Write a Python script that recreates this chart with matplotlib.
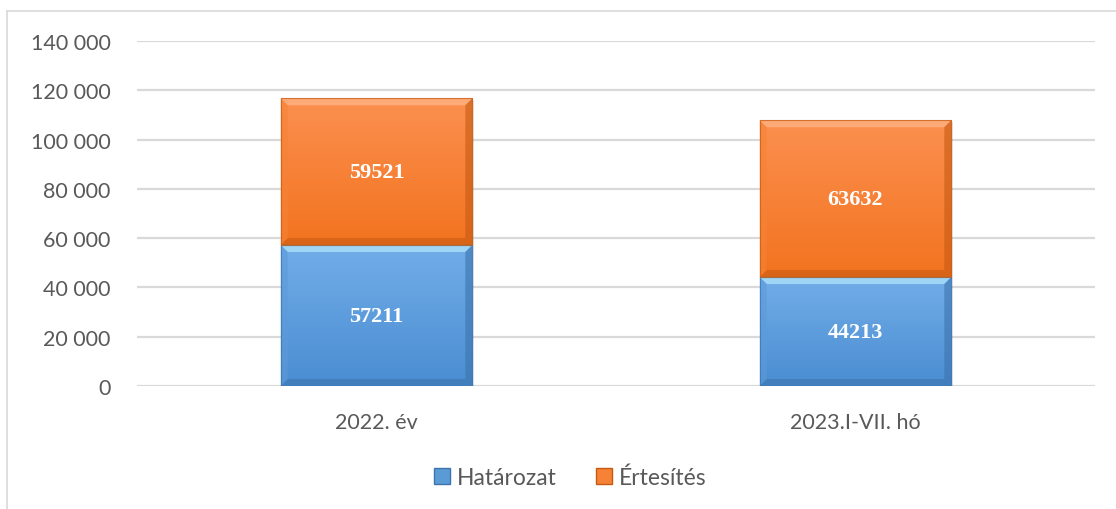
import numpy as np
import matplotlib
matplotlib.use("Agg")
import matplotlib.pyplot as plt
from matplotlib.patches import Polygon, Patch
from matplotlib.lines import Line2D
from matplotlib.colors import LinearSegmentedColormap

categories = ["2022. év", "2023.I-VII. hó"]
hatarozat = [57211, 44213]
ertesites = [59521, 63632]
series_names = ["Határozat", "Értesítés"]
yticks = [0, 20000, 40000, 60000, 80000, 100000, 120000, 140000]

W, H = 1116, 510
fig = plt.figure(figsize=(W / 100, H / 100), dpi=100)
fig.patch.set_facecolor("white")

ax = fig.add_axes([137 / W, (H - 387) / H, (1095 - 137) / W, (387 - 42) / H])
ax.set_xlim(-0.5, len(categories) - 0.5)
ax.set_ylim(0, 140000)
for s in ax.spines.values():
    s.set_visible(False)
ax.set_yticks(yticks)
ax.set_yticklabels([f"{v:,}".replace(",", " ") for v in yticks])
ax.set_xticks(range(len(categories)))
ax.set_xticklabels(categories)
ax.tick_params(length=0, colors="#595959", labelsize=15.5)
for lab in ax.get_yticklabels() + ax.get_xticklabels():
    lab.set_fontfamily("Lato")
ax.tick_params(axis="y", pad=19)
ax.tick_params(axis="x", pad=19)
ax.grid(axis="y", color="#D9D9D9", linewidth=1.6)
ax.set_axisbelow(True)

x = np.arange(len(categories))
width = 0.4
colors = {
    "blue": ("#72ADE8", "#4A8DD2", "#A8DDF8", "#3C74AE", "#5E9AD8"),
    "orange": ("#FC9050", "#F2731F", "#FDB080", "#C65A12", "#F58236"),
}

bars1 = ax.bar(x, hatarozat, width, color="none", zorder=3, label=series_names[0])
bars2 = ax.bar(x, ertesites, width, bottom=hatarozat, color="none", zorder=3, label=series_names[1])

fig.canvas.draw()
bbox = ax.get_window_extent()
px_x = (ax.get_xlim()[1] - ax.get_xlim()[0]) / bbox.width
px_y = (ax.get_ylim()[1] - ax.get_ylim()[0]) / bbox.height


def fancy_bar(rect, key):
    top_c, bot_c, light, dark, mid = colors[key]
    x0, y0 = rect.get_x(), rect.get_y()
    w, h = rect.get_width(), rect.get_height()
    x1, y1 = x0 + w, y0 + h
    # shadow
    sx, sy = 2 * px_x, 2 * px_y
    ax.add_patch(Polygon([(x0 + sx, y0 - sy), (x1 + sx, y0 - sy), (x1 + sx, y1 - sy), (x0 + sx, y1 - sy)],
                         closed=True, facecolor="#000000", alpha=0.12, zorder=2.5, linewidth=0))
    cmap = LinearSegmentedColormap.from_list("g", [bot_c, top_c])
    grad = np.linspace(0, 1, 256).reshape(-1, 1)
    ax.imshow(grad, extent=[x0, x1, y0, y1], origin="lower", cmap=cmap,
              aspect="auto", zorder=3, interpolation="bicubic")
    bx, by = 7 * px_x, 7 * px_y
    # top bevel
    ax.add_patch(Polygon([(x0, y1), (x1, y1), (x1 - bx, y1 - by), (x0 + bx, y1 - by)],
                         closed=True, facecolor=light, alpha=0.85, linewidth=0, zorder=3.2))
    # bottom bevel
    ax.add_patch(Polygon([(x0, y0), (x1, y0), (x1 - bx, y0 + by), (x0 + bx, y0 + by)],
                         closed=True, facecolor=dark, alpha=0.6, linewidth=0, zorder=3.2))
    # left bevel
    ax.add_patch(Polygon([(x0, y0), (x0, y1), (x0 + bx, y1 - by), (x0 + bx, y0 + by)],
                         closed=True, facecolor=mid, alpha=0.6, linewidth=0, zorder=3.2))
    # right bevel
    ax.add_patch(Polygon([(x1, y0), (x1, y1), (x1 - bx, y1 - by), (x1 - bx, y0 + by)],
                         closed=True, facecolor=dark, alpha=0.6, linewidth=0, zorder=3.2))
    ax.add_patch(Polygon([(x0, y0), (x1, y0), (x1, y1), (x0, y1)], closed=True,
                         facecolor="none", edgecolor=dark, linewidth=0.8, alpha=0.7, zorder=3.3))


for r in bars1:
    fancy_bar(r, "blue")
for r in bars2:
    fancy_bar(r, "orange")

for i in range(len(categories)):
    ax.text(x[i], hatarozat[i] / 2, f"{hatarozat[i]}", ha="center", va="center",
            color="white", fontsize=16, fontweight="bold", family="Liberation Serif", zorder=5)
    ax.text(x[i], hatarozat[i] + ertesites[i] / 2, f"{ertesites[i]}", ha="center", va="center",
            color="white", fontsize=16, fontweight="bold", family="Liberation Serif", zorder=5)

ax.set_xlim(-0.5, len(categories) - 0.5)
ax.set_ylim(0, 140000)

handles = [Patch(facecolor="#5B9BD5", edgecolor="#3C74AE"),
           Patch(facecolor="#F58236", edgecolor="#C65A12")]
leg = fig.legend(handles, series_names, loc="center", bbox_to_anchor=(570 / W, (H - 478) / H),
                 ncol=2, frameon=False, handlelength=0.7, handleheight=0.7,
                 handletextpad=0.3, columnspacing=1.7,
                 prop={"family": "Lato", "size": 16.5})
for t in leg.get_texts():
    t.set_color("#595959")

# outer chart border
fig.add_artist(Line2D([7 / W, 7 / W], [0, (H - 12) / H], color="#D9D9D9", linewidth=1.2,
                      transform=fig.transFigure))
fig.add_artist(Line2D([7 / W, 1], [(H - 12) / H, (H - 12) / H], color="#D9D9D9", linewidth=1.2,
                      transform=fig.transFigure))

fig.savefig("out.png", dpi=100, facecolor="white")
